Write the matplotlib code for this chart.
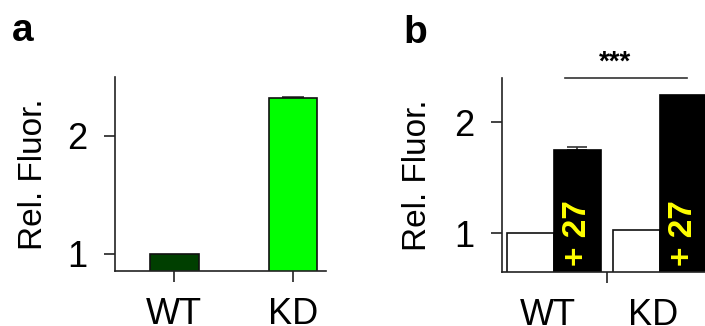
import matplotlib
matplotlib.use("Agg")
import matplotlib.pyplot as plt

plt.rcParams['font.family'] = ['Liberation Sans', 'DejaVu Sans']

# Panel a: relative fluorescence of the reporter
a_groups = ["WT", "KD"]
a_values = [1.0, 2.318]
a_errors = [0.0, 0.015]
a_colors = ["#003f00", "#00ff00"]

# Panel b: without / with treatment (+27) per genotype
b_groups = ["WT", "KD"]
b_untreated = [1.0, 1.03]
b_treated = [1.748, 2.25]
b_treated_err = [0.03, 0.0]
b_treated_label = "+ 27"
b_signif = "***"

FS = 26
LW = 1.2

fig = plt.figure(figsize=(7.05, 3.26), dpi=100)

# ---------------- panel a ----------------
axa = fig.add_axes([115 / 705, 1 - 271 / 326, (326 - 115) / 705, (271 - 77) / 326])
xa = list(range(len(a_groups)))
axa.bar(xa, a_values, width=0.41, bottom=0, color=a_colors,
        edgecolor="#111111", linewidth=LW, zorder=2)
axa.errorbar(xa[1:], a_values[1:], yerr=[[0], a_errors[1:]], fmt="none",
             ecolor="#333333", elinewidth=LW, capsize=8, capthick=LW, zorder=1)
axa.set_xlim(-0.5, 1.28)
axa.set_ylim(0.855, 2.5)
axa.set_yticks([1, 2])
axa.set_xticks(xa)
axa.set_xticklabels(a_groups)
axa.set_ylabel("Rel. Fluor.", fontsize=24, labelpad=13)
fig.text(12 / 705, 1 - 31 / 326, "a", fontsize=28, fontweight="bold",
         va="center", ha="left")

# ---------------- panel b ----------------
axb = fig.add_axes([502 / 705, 1 - 272 / 326, (705 - 502) / 705, (272 - 78) / 326])
xb = list(range(len(b_groups)))
w = 0.443
xw = [x - w / 2 for x in xb]
xk = [x + w / 2 for x in xb]
axb.bar(xw, b_untreated, width=w, color="white", edgecolor="#111111",
        linewidth=LW, zorder=2)
axb.bar(xk, b_treated, width=w, color="black", edgecolor="black",
        linewidth=LW, zorder=2)
axb.errorbar(xk[:1], b_treated[:1], yerr=[[0], b_treated_err[:1]], fmt="none",
             ecolor="#333333", elinewidth=LW, capsize=7, capthick=LW, zorder=1)
for x in xk:
    axb.text(x, 1.0, b_treated_label, rotation=90, color="#ffff00",
             fontsize=24, fontweight="bold", ha="center", va="center", zorder=3)
axb.set_xlim(-0.49, 1.425)
axb.set_ylim(0.65, 2.4)
axb.set_yticks([1, 2])
axb.set_xticks([0.5])
axb.set_xticklabels([""])
axb.set_xticks([x - 0.06 for x in xb], minor=True)
axb.set_xticklabels(b_groups, minor=True)
axb.tick_params(axis="x", which="minor", length=0, pad=18.5, labelsize=FS)
axb.set_ylabel("Rel. Fluor.", fontsize=24, labelpad=15)
fig.text(403 / 705, 1 - 33 / 326, "b", fontsize=28, fontweight="bold",
         va="center", ha="left")
# significance bracket
axb.plot([0.1, 1.255], [2.4, 2.4], color="#333333", lw=LW, clip_on=False)
axb.text(0.575, 2.54, b_signif, ha="center", va="center", fontsize=20,
         fontweight="bold", clip_on=False)

for ax in (axa, axb):
    for s in ("top", "right"):
        ax.spines[s].set_visible(False)
    for s in ("left", "bottom"):
        ax.spines[s].set_linewidth(LW)
        ax.spines[s].set_color("#222222")
    ax.tick_params(axis="both", which="major", direction="out", length=8,
                   width=LW, labelsize=FS, color="#222222")
    ax.tick_params(axis="y", pad=12)
    ax.tick_params(axis="x", which="major", pad=10.5)
    ax.set_facecolor("none")

fig.savefig("out.png", dpi=100)
